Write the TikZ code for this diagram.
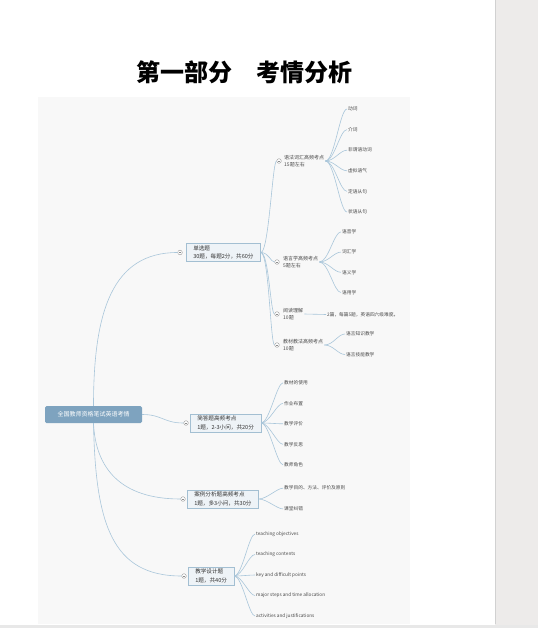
\documentclass[tikz,border=0pt]{standalone}
\usepackage{fontspec}
\setmainfont{Noto Sans CJK SC}
\usetikzlibrary{positioning}
\definecolor{mmline}{HTML}{A9C6DA}
\definecolor{mmroot}{HTML}{7EA3BF}
\definecolor{mmbox}{HTML}{EEF3F7}
\definecolor{mmboxline}{HTML}{A3BFD2}
\definecolor{mmink}{HTML}{4A4A4A}
\definecolor{mmcanvas}{HTML}{F8F8F8}
\definecolor{pagegrey}{HTML}{EDEBEA}
\tikzset{
  every picture/.style={font=\fontsize{5}{6}\selectfont,text=mmink},
  root/.style={rounded corners=1.5pt,fill=mmroot,text=white,minimum width=97pt,
    minimum height=17pt,inner sep=0pt,font=\fontsize{6}{7}\selectfont},
  topic/.style={draw=mmboxline,fill=mmbox,line width=0.5pt,align=left,anchor=west,
    inner xsep=7pt,inner ysep=2.2pt,text=black!80,font=\fontsize{5.6}{8.5}\selectfont},
  subtopic/.style={anchor=west,align=left,inner sep=1pt,font=\fontsize{5}{7}\selectfont},
  leaf/.style={anchor=west,inner sep=1pt,font=\fontsize{4.7}{6}\selectfont},
  fold/.style={circle,draw=black!40,fill=white,line width=0.4pt,minimum size=4.6pt,
    inner sep=0pt,path picture={\draw[black!45,line width=0.35pt]
      ([xshift=-1.2pt]path picture bounding box.center) --
      ([xshift=1.2pt]path picture bounding box.center);}},
  branch/.style={draw=mmline,line width=0.6pt},
}

\begin{document}
\begin{tikzpicture}[x=1pt,y=-1pt]
  \useasboundingbox (0,0) rectangle (538,628);
  % page, side panel and the mind map canvas
  \fill[pagegrey] (495,0) rectangle (538,628);
  \draw[black!18,line width=0.6pt] (495,0) -- (495,624);
  \fill[mmcanvas] (38,97) rectangle (410,624);
  \fill[black!9] (0,624.5) rectangle (538,628);
  \node[font=\fontsize{24}{24}\selectfont\bfseries,text=black] (title) at (244.5,72)
    {第一部分　考情分析};

  \node[root] (root) at (93.5,414.5) {全国教师资格笔试英语考情};

  % first level
  \node[fold] (f1) at (180,252.5) {};
  \node[topic] (t1) at (186,252.5) {单选题\\30题，每题2分，共60分};
  \node[fold] (f2) at (186,423) {};
  \node[topic] (t2) at (190,423) {简答题高频考点\\1题，2-3小问，共20分};
  \node[fold] (f3) at (183,499) {};
  \node[topic] (t3) at (187,499) {案例分析题高频考点\\1题，多3小问，共30分};
  \node[fold] (f4) at (184,576) {};
  \node[topic] (t4) at (188,576) {教学设计题\\1题，共40分};

  \draw[branch] (root.north) .. controls +(0,-95) and +(-65,0) .. (f1.west);
  \draw[branch] (root.east) .. controls +(20,0) and +(-20,0) .. (f2.west);
  \draw[branch] (root.south) .. controls +(2,45) and +(-60,0) .. (f3.west);
  \draw[branch] (root.south) .. controls +(2,100) and +(-70,0) .. (f4.west);

  % single choice part
  \node[fold] (m1) at (279,161) {};
  \node[subtopic] (s1) at (283,161) {语法词汇高频考点\\15题左右};
  \node[fold] (m2) at (277,262) {};
  \node[subtopic] (s2) at (282,262) {语言学高频考点\\5题左右};
  \node[fold] (m3) at (277,314) {};
  \node[subtopic] (s3) at (282,314) {阅读理解\\10题};
  \node[fold] (m4) at (277,345) {};
  \node[subtopic] (s4) at (282,345) {教材教法高频考点\\10题};
  \foreach \m in {m1,m2,m3,m4}
    \draw[branch] (t1.east) .. controls +(8,0) and +(-4,0) .. (\m.west);

  \foreach \txt [count=\i] in {动词,介词,非谓语动词,虚拟语气,定语从句,状语从句} {
    \node[leaf] (g\i) at (347,{88.4+20.6*\i}) {\txt};
    \draw[branch] (s1.east) .. controls +(9,0) and +(-7,0) .. (g\i.west);
  }
  \foreach \txt [count=\i] in {语音学,词汇学,语义学,语用学} {
    \node[leaf] (l\i) at (341,{211.7+20.2*\i}) {\txt};
    \draw[branch] (s2.east) .. controls +(9,0) and +(-7,0) .. (l\i.west);
  }
  \node[leaf] (r1) at (326,314.5) {2篇，每篇5题，英语四六级难度。};
  \draw[branch] (s3.east) -- (r1.west);
  \foreach \txt [count=\i] in {语言知识教学,语言技能教学} {
    \node[leaf] (e\i) at (345,{313.5+20.5*\i}) {\txt};
    \draw[branch] (s4.east) .. controls +(9,0) and +(-7,0) .. (e\i.west);
  }

  % short answer part
  \foreach \txt [count=\i] in {教材的使用,作业布置,教学评价,教学反思,教师角色} {
    \node[leaf] (k\i) at (283,{362.3+20.5*\i}) {\txt};
    \draw[branch] (t2.east) .. controls +(8,0) and +(-6,0) .. (k\i.west);
  }

  % case analysis part
  \foreach \txt [count=\i] in {教学目的、方法、评价及原则,课堂纠错} {
    \node[leaf] (c\i) at (283,{467.5+20.7*\i}) {\txt};
    \draw[branch] (t3.east) .. controls +(8,0) and +(-6,0) .. (c\i.west);
  }

  % teaching design part
  \foreach \txt [count=\i] in {teaching objectives,teaching contents,key and difficult points,
      major steps and time allocation,activities and justifications} {
    \node[leaf] (d\i) at (255,{513.5+20.5*\i}) {\txt};
    \draw[branch] (t4.east) .. controls +(8,0) and +(-6,0) .. (d\i.west);
  }
\end{tikzpicture}
\end{document}
